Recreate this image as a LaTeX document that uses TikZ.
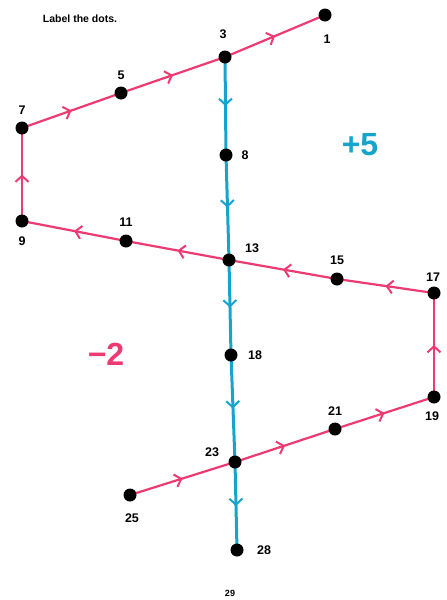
\documentclass[tikz,border=0pt]{standalone}
\usepackage{fontspec}
\setmainfont{Liberation Sans}
\usetikzlibrary{arrows.meta,decorations.markings}
\definecolor{pinkc}{HTML}{EE3A72}
\definecolor{cyanc}{HTML}{16A3CC}
\tikzset{
  dot/.style={circle,fill=black,inner sep=0pt,minimum size=12pt},
  lbl/.style={font=\fontsize{12.5}{14}\selectfont\bfseries,inner sep=1pt},
  midarrow/.style={postaction={decorate},decoration={markings,
     mark=at position 0.5 with {\arrow{Straight Barb[length=6pt,width=13pt,line width=2pt]}}}},
  pinkline/.style={draw=pinkc,line width=2.2pt,midarrow},
  cyanline/.style={draw=cyanc,line width=3pt,midarrow},
}
\begin{document}
\begin{tikzpicture}[x=1pt,y=-1pt]
\useasboundingbox (0,0) rectangle (447,600);
\node[font=\fontsize{10.5}{12}\selectfont\bfseries] (title) at (80,19) {Label the dots.};
% dots
\node[dot] (n1) at (325,15) {};
\node[dot] (n3) at (225,57) {};
\node[dot] (n5) at (121,93) {};
\node[dot] (n7) at (22,128) {};
\node[dot] (n8) at (226,155) {};
\node[dot] (n9) at (22,221) {};
\node[dot] (n11) at (126,241) {};
\node[dot] (n13) at (229,260) {};
\node[dot] (n15) at (337,279) {};
\node[dot] (n17) at (434,293) {};
\node[dot] (n18) at (231,355) {};
\node[dot] (n19) at (434,397) {};
\node[dot] (n21) at (335,429) {};
\node[dot] (n23) at (235,462) {};
\node[dot] (n25) at (130,495) {};
\node[dot] (n28) at (237,550) {};
% connectors
\path[pinkline] (n7.center) -- (n5.center);
\path[pinkline] (n5.center) -- (n3.center);
\path[pinkline] (n3.center) -- (n1.center);
\path[pinkline] (n9.center) -- (n7.center);
\path[pinkline] (n11.center) -- (n9.center);
\path[pinkline] (n13.center) -- (n11.center);
\path[pinkline] (n15.center) -- (n13.center);
\path[pinkline] (n17.center) -- (n15.center);
\path[pinkline] (n19.center) -- (n17.center);
\path[pinkline] (n21.center) -- (n19.center);
\path[pinkline] (n23.center) -- (n21.center);
\path[pinkline] (n25.center) -- (n23.center);
\path[cyanline] (n3.center) -- (n8.center);
\path[cyanline] (n8.center) -- (n13.center);
\path[cyanline] (n13.center) -- (n18.center);
\path[cyanline] (n18.center) -- (n23.center);
\path[cyanline] (n23.center) -- (n28.center);
% redraw dots on top
\foreach \n in {n1,n3,n5,n7,n8,n9,n11,n13,n15,n17,n18,n19,n21,n23,n25,n28}
  \fill (\n) circle (6.5pt);
% labels
\node[lbl] (l1) at (327,39) {1};
\node[lbl] (l3) at (223,34) {3};
\node[lbl] (l5) at (121,75) {5};
\node[lbl] (l7) at (22,110) {7};
\node[lbl] (l8) at (245,155) {8};
\node[lbl] (l9) at (22,241) {9};
\node[lbl] (l11) at (126,222) {11};
\node[lbl] (l13) at (252,248) {13};
\node[lbl] (l15) at (337,260) {15};
\node[lbl] (l17) at (433,277) {17};
\node[lbl] (l18) at (255,355) {18};
\node[lbl] (l19) at (432,416) {19};
\node[lbl] (l21) at (335,411) {21};
\node[lbl] (l23) at (212,452) {23};
\node[lbl] (l25) at (132,518) {25};
\node[lbl] (l28) at (264,550) {28};
\node[lbl,font=\fontsize{9}{10}\selectfont\bfseries] (l29) at (230,593) {29};
\node[text=cyanc,font=\fontsize{32}{34}\selectfont\bfseries] (plus) at (360,145) {+5};
\node[text=pinkc,font=\fontsize{32}{34}\selectfont\bfseries] (minus) at (106,354) {\symbol{"2212}2};
\end{tikzpicture}
\end{document}
